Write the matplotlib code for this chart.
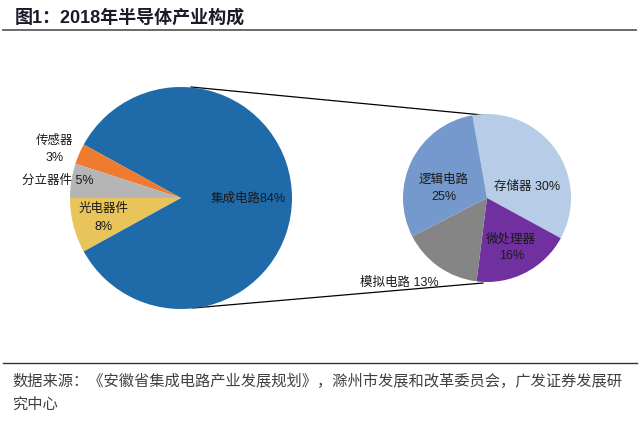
import matplotlib
matplotlib.use('Agg')
import matplotlib.pyplot as plt

plt.rcParams['font.family'] = ['Liberation Sans', 'Noto Sans CJK SC', 'DejaVu Sans']

# 2018 半导体产业构成
big_labels = ['光电器件', '集成电路', '传感器', '分立器件']
big_values = [8, 84, 3, 5]
big_colors = ['#e9c45a', '#1f6aa8', '#ef7b2f', '#b5b5b5']

# 集成电路细分
small_labels = ['存储器', '微处理器', '模拟电路', '逻辑电路']
small_values = [30, 16, 13, 25]
small_colors = ['#b7cce6', '#7030a0', '#858585', '#7599cc']

W, H = 640, 436


def py(y):
    # pixel row -> data y
    return H - y


fig = plt.figure(figsize=(6.4, 4.36), dpi=100)
ax = fig.add_axes([0, 0, 1, 1])

ax.pie(big_values, colors=big_colors, startangle=180, counterclock=True,
       center=(181, py(198)), radius=111, frame=True)
ax.pie(small_values, colors=small_colors, startangle=100, counterclock=False,
       center=(487, py(198)), radius=84, frame=True)

# zoom connector lines
ax.plot([191, 493], [py(87), py(116)], color='black', lw=0.9, zorder=0)
ax.plot([193, 483], [py(308), py(283)], color='black', lw=0.9, zorder=0)

ax.set_xlim(0, W)
ax.set_ylim(0, H)
ax.set_aspect('equal')
ax.axis('off')

tc = '#1a1a1a'
fs = 9
ax.text(55, py(141), '传感器', ha='center', va='center', fontsize=fs, color=tc)
ax.text(55, py(158), '3%', ha='center', va='center', fontsize=fs, color=tc)
ax.text(58, py(181), '分立器件 5%', ha='center', va='center', fontsize=fs, color=tc)
ax.text(104, py(209), '光电器件', ha='center', va='center', fontsize=fs, color=tc)
ax.text(104, py(227), '8%', ha='center', va='center', fontsize=fs, color=tc)
ax.text(248, py(199), '集成电路84%', ha='center', va='center', fontsize=fs, color=tc)
ax.text(444, py(180), '逻辑电路', ha='center', va='center', fontsize=fs, color=tc)
ax.text(444, py(197), '25%', ha='center', va='center', fontsize=fs, color=tc)
ax.text(527, py(187), '存储器 30%', ha='center', va='center', fontsize=fs, color=tc)
ax.text(511, py(239), '微处理器', ha='center', va='center', fontsize=fs, color=tc)
ax.text(512, py(256), '16%', ha='center', va='center', fontsize=fs, color=tc)
ax.text(399, py(283), '模拟电路 13%', ha='center', va='center', fontsize=fs, color=tc)

# title and rules
ax.text(15, py(18), '图1：2018年半导体产业构成', ha='left', va='center',
        fontsize=13, fontweight='bold', color='#1a1a2a')
ax.plot([3, 636], [py(30), py(30)], color='#5e5e5e', lw=1.3)
ax.plot([3, 637], [py(363), py(363)], color='#333333', lw=1.0)

src = '#404040'
ax.text(12, py(381), '数据来源：《安徽省集成电路产业发展规划》，滁州市发展和改革委员会，广发证券发展研',
        ha='left', va='center', fontsize=11, color=src)
ax.text(12, py(405), '究中心', ha='left', va='center', fontsize=11, color=src)

fig.savefig('out.png', dpi=100)
